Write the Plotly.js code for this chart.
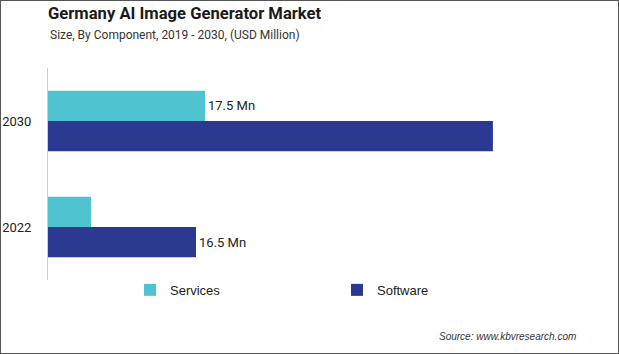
<!DOCTYPE html>
<html>
<head>
<meta charset="utf-8">
<script src="https://cdn.plot.ly/plotly-3.0.1.min.js"></script>
<style>
  html, body { margin: 0; padding: 0; background: #fff; }
  #wrap { position: relative; width: 619px; height: 354px; }
  #chart { width: 619px; height: 354px; }
  #frame { position: absolute; left: 0; top: 0; width: 619px; height: 354px; box-sizing: border-box; border: 1px solid #555; pointer-events: none; }
</style>
</head>
<body>
<div id="wrap"><div id="chart"></div><div id="frame"></div></div>
<script>
const categories = ['2022', '2030'];
const servicesValues = [4.8, 17.5];
const softwareValues = [16.5, 49.6];
const servicesLabels = ['', '17.5 Mn'];
const softwareLabels = ['16.5 Mn', ''];
const seriesNames = ['Services', 'Software'];
const titleText = 'Germany AI Image Generator Market';
const subtitleText = 'Size, By Component, 2019 - 2030, (USD Million)';
const sourceText = 'Source: www.kbvresearch.com';

const labelFont = { family: 'Roboto, sans-serif', size: 13, color: '#222' };

const traces = [
  {
    type: 'bar', orientation: 'h', name: seriesNames[1],
    y: categories, x: softwareValues, text: softwareLabels,
    textposition: 'outside', cliponaxis: false, textfont: labelFont,
    marker: { color: '#2B3990' }, hoverinfo: 'none'
  },
  {
    type: 'bar', orientation: 'h', name: seriesNames[0],
    y: categories, x: servicesValues, text: servicesLabels,
    textposition: 'outside', cliponaxis: false, textfont: labelFont,
    marker: { color: '#4FC3CF' }, hoverinfo: 'none'
  }
];

const layout = {
  width: 619, height: 354,
  margin: { l: 48, r: 31, t: 68, b: 74 },
  paper_bgcolor: '#fff', plot_bgcolor: '#fff',
  barmode: 'group', bargap: 0.43, bargroupgap: 0,
  showlegend: true,
  title: {
    text: '<b>' + titleText + '</b>',
    font: { family: 'Roboto, sans-serif', size: 16.6, color: '#1a1a1a' },
    xref: 'paper', x: 0, xanchor: 'left',
    yref: 'container', y: 0.978, yanchor: 'top'
  },
  annotations: [
    {
      text: subtitleText, xref: 'paper', yref: 'paper',
      x: 0, xanchor: 'left', y: 1.0 + (68 - 35) / 212, yanchor: 'middle',
      showarrow: false, font: { family: 'Roboto, sans-serif', size: 12, color: '#333' }
    },
    {
      text: '<i>' + sourceText + '</i>', xref: 'paper', yref: 'paper',
      x: (578 - 48) / 540, xanchor: 'right', y: -(336 - 280) / 212, yanchor: 'middle',
      showarrow: false, font: { family: 'Liberation Sans, Arial, sans-serif', size: 10, color: '#333' }
    }
  ],
  xaxis: {
    range: [0, 540 / 8.97], showgrid: false, zeroline: false,
    showticklabels: false, showline: false, fixedrange: true
  },
  yaxis: {
    type: 'category', categoryorder: 'array', categoryarray: categories,
    showgrid: false, zeroline: false, showline: true, linecolor: '#d0d0d0', linewidth: 1,
    ticks: 'outside', ticklen: 13, tickcolor: 'rgba(0,0,0,0)',
    tickfont: { family: 'Roboto, sans-serif', size: 13, color: '#222' },
    fixedrange: true
  },
  legend: {
    orientation: 'h', traceorder: 'reversed',
    x: (130 - 48) / 540, xanchor: 'left',
    y: 0.024, yanchor: 'top',
    entrywidth: 162, entrywidthmode: 'pixels',
    font: { family: 'Liberation Sans, Arial, sans-serif', size: 13, color: '#222' },
    itemwidth: 30
  }
};

Plotly.newPlot('chart', traces, layout, { displayModeBar: false, staticPlot: true });
</script>
</body>
</html>
